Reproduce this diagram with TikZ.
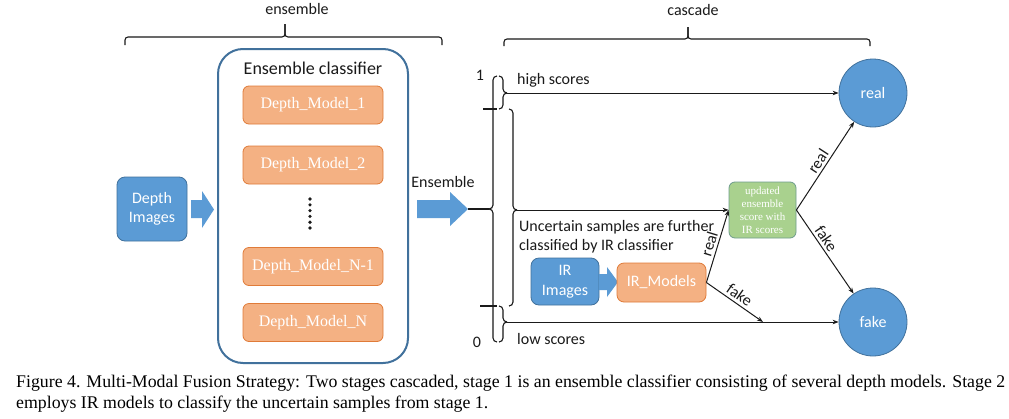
\documentclass[tikz,border=0pt]{standalone}
\usepackage{fontspec}
\setmainfont{Liberation Serif}
\newfontfamily\calfont{Carlito}
\usetikzlibrary{arrows.meta}
\definecolor{bfill}{HTML}{5B9BD5}
\definecolor{bdraw}{HTML}{41719C}
\definecolor{ofill}{HTML}{F4B183}
\definecolor{odraw}{HTML}{E07B39}
\definecolor{gfill}{HTML}{A9D18E}
\definecolor{gdraw}{HTML}{6E9C8C}
\definecolor{ink}{HTML}{1A1A1A}
\begin{document}
\begin{tikzpicture}[x=1pt,y=-1pt,
  cf/.style={font=\calfont\fontsize{16}{19.5}\selectfont},
  brc/.style={draw=ink, line width=1.1pt, rounded corners=4pt},
  conn/.style={draw=ink, line width=1pt, -{Stealth[length=6pt,width=4.5pt]}},
  dmodel/.style={rectangle, rounded corners=6pt, fill=ofill, draw=odraw, line width=0.8pt, minimum width=140pt, minimum height=38pt, inner sep=0pt, text=white, font=\fontsize{16}{19}\selectfont},
  bluebox/.style={rectangle, rounded corners=8pt, fill=bfill, draw=bdraw, line width=0.8pt, inner sep=0pt, text=white, align=center, cf},
  circ/.style={circle, fill=bfill, draw=bdraw, line width=0.8pt, minimum size=68pt, inner sep=0pt, text=white, cf},
  lbl/.style={cf, text=ink, inner sep=0pt},
  elbl/.style={cf, text=ink, inner sep=2.5pt, sloped, above},
]
\useasboundingbox[fill=white] (0,0) rectangle (1009,418);

% top braces
\node[lbl, anchor=base] (enslbl) at (297,14) {ensemble};
\node[lbl, anchor=base] (casclbl) at (693,15) {cascade};
\draw[brc, rounded corners=3pt] (125,45) -- (125,37) -- (285,37) -- (285,24);
\draw[brc, rounded corners=3pt] (285,24) -- (285,37) -- (442,37) -- (442,45);
\draw[brc, rounded corners=3pt] (504,46) -- (504,39) -- (688,39) -- (688,27);
\draw[brc, rounded corners=3pt] (688,27) -- (688,39) -- (870,39) -- (870,46);

% ensemble classifier
\node[draw=bdraw, line width=2pt, rounded corners=25pt, minimum width=190pt, minimum height=314pt, inner sep=0pt] (ec) at (313,206) {};
\node[lbl, font=\calfont\fontsize{18}{21}\selectfont, anchor=base] (ectitle) at (313,74) {Ensemble classifier};
\node[dmodel] (d1) at (313,105) {Depth\_Model\_1};
\node[dmodel] (d2) at (313,165) {Depth\_Model\_2};
\node[dmodel] (dn1) at (313,266.5) {Depth\_Model\_N-1};
\node[dmodel] (dn) at (313,322.5) {Depth\_Model\_N};
\foreach \i in {0,...,5} \fill[ink] (310,199+\i*5.8) circle (1.8pt);

% depth images
\node[bluebox, minimum width=70pt, minimum height=64pt] (di) at (152,209) {Depth\\Images};
\fill[bfill] (191,200) -- (202,200) -- (202,191) -- (214,209.5) -- (202,228) -- (202,218) -- (191,218) -- cycle;

% ensemble arrow
\node[lbl, anchor=base] (enstxt) at (443,187) {Ensemble};
\fill[bfill] (417,200) -- (450,200) -- (450,192) -- (468,209) -- (450,226) -- (450,218) -- (417,218) -- cycle;
\coordinate (enstip) at (468,209);
\coordinate (bigtip) at (489,209);
\draw[draw=ink, line width=1.1pt] (enstip) -- (bigtip);

% braces of the cascade
\draw[brc] (497,76) -- (493,76) -- (493,209) -- (489,209);
\draw[brc] (489,209) -- (493,209) -- (493,342) -- (497,342);
\draw[brc] (499,76) -- (503,76) -- (503,93) -- (507,93);
\draw[brc] (507,93) -- (503,93) -- (503,109) -- (499,109);
\draw[brc] (509,109) -- (513,109) -- (513,210) -- (517,210);
\draw[brc] (517,210) -- (513,210) -- (513,306) -- (509,306);
\draw[brc] (499,306) -- (503,306) -- (503,322) -- (507,322);
\draw[brc] (507,322) -- (503,322) -- (503,342) -- (499,342);
\draw[draw=ink, line width=1.1pt] (483,109) -- (497,109);
\draw[draw=ink, line width=1.1pt] (480,306) -- (497,306);
\node[lbl, anchor=base] (one) at (480,80) {1};
\node[lbl, anchor=base] (zero) at (477,347) {0};
\node[lbl, anchor=base west] (hs) at (517,84) {high scores};
\node[lbl, anchor=base west] (ls) at (517,344) {low scores};
\node[lbl, anchor=base west] (unc1) at (519,231.5) {Uncertain samples are further};
\node[lbl, anchor=base west] (unc2) at (519,250.5) {classified by IR classifier};

% outcome circles
\node[circ] (real) at (873,93) {real};
\node[circ] (fake) at (873,322) {fake};

% IR branch
\node[bluebox, minimum width=68pt, minimum height=47pt] (iri) at (565,281.5) {IR\\Images};
\fill[bfill] (599,274) -- (607,274) -- (607,267) -- (618,282) -- (607,297) -- (607,290) -- (599,290) -- cycle;
\node[rectangle, rounded corners=7pt, fill=ofill, draw=odraw, line width=0.8pt, minimum width=89pt, minimum height=39pt, inner sep=0pt, text=white, cf] (irm) at (661.5,282.5) {IR\_Models};
\node[rectangle, rounded corners=6pt, fill=gfill, draw=gdraw, line width=0.8pt, minimum width=67pt, minimum height=56pt, inner sep=0pt, text=white, align=center, font=\fontsize{11}{13}\selectfont] (upd) at (762.5,210) {updated\\ensemble\\score with\\IR scores};

% connectors
\coordinate (hi) at (507,93);
\coordinate (mid) at (517,210);
\coordinate (lo) at (507,322);
\coordinate (fk) at (763,322);
\draw[conn] (hi) -- (real);
\draw[conn] (mid) -- (upd.west);
\draw[conn] (lo) -- (fake);
\draw[conn] (irm.east) -- node[elbl] (l1) {real} (upd.west);
\draw[conn] (irm.east) -- node[elbl] (l2) {fake} (fk);
\draw[conn] (upd.east) -- node[elbl] (l3) {real} (real);
\draw[conn] (upd.east) -- node[elbl, pos=0.4] (l4) {fake} (fake);

% caption
\node[anchor=base west, inner sep=0pt, font=\fontsize{17.8}{20}\selectfont] (cap1) at (16,387) {\makebox[989pt][s]{Figure 4. Multi-Modal Fusion Strategy: Two stages cascaded, stage 1 is an ensemble classifier consisting of several depth models. Stage 2}};
\node[anchor=base west, inner sep=0pt, font=\fontsize{17.8}{20}\selectfont] (cap2) at (16,408) {employs IR models to classify the uncertain samples from stage 1.};
\end{tikzpicture}
\end{document}
